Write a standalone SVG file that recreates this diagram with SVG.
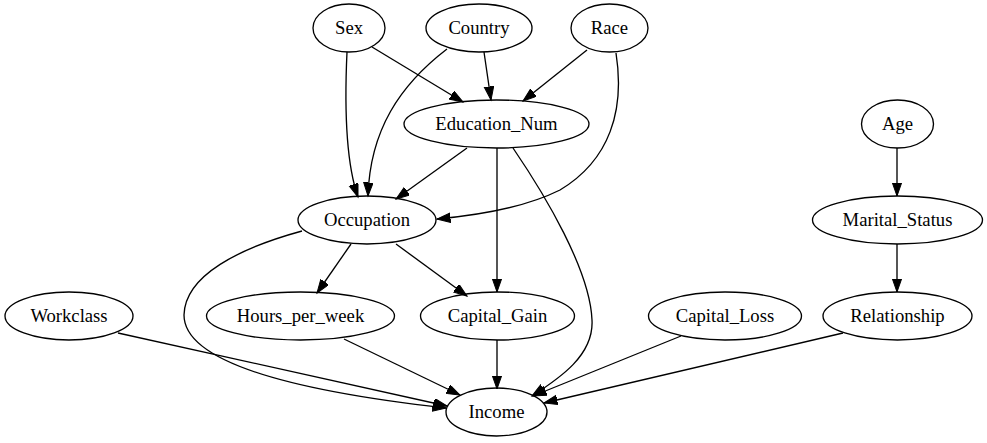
<svg xmlns="http://www.w3.org/2000/svg" width="987" height="443" viewBox="0 0 987 443">
<style>
.n ellipse{fill:none;stroke:#000;stroke-width:1.33}
.n text{font-size:18.67px;text-anchor:middle;fill:#000}
.e path{fill:none;stroke:#000;stroke-width:1.33;marker-end:url(#ah)}
</style>
<defs>
<marker id="ah" markerUnits="userSpaceOnUse" markerWidth="16" markerHeight="12" refX="13.5" refY="4.75" orient="auto">
<path d="M0,0 L13.5,4.75 L0,9.5 z" fill="#000" stroke="#000" stroke-width="1"/>
</marker>
</defs>
<rect width="987" height="443" fill="#fff"/>
<g id="edges" class="e">
<path d="M372,47 L463,102"/>
<path d="M347,52 C345,95 345,160 358,197"/>
<path d="M484,52 L491,100"/>
<path d="M447,49 C400,85 370,130 368,196"/>
<path d="M587,50 L523,101"/>
<path d="M616,53 C625,110 610,160 560,190 C520,210 470,216 437,219"/>
<path d="M467,148 L396,199"/>
<path d="M497,148 L497,292"/>
<path d="M513,148 C545,195 590,270 592,320 C594,355 560,378 532,396"/>
<path d="M351,244 L317,293"/>
<path d="M396,244 L467,296"/>
<path d="M302,231 C240,248 185,275 184,315 C184,370 330,395 446,408"/>
<path d="M897,148 L897,196"/>
<path d="M897,244 L897,292"/>
<path d="M118,333 L447,406"/>
<path d="M344,339 L460,395"/>
<path d="M497,340 L497,389"/>
<path d="M681,336 L533,396"/>
<path d="M843,333 L544,403"/>
</g>
<g font-family="Liberation Serif, serif">
<g id="Sex" class="n"><ellipse cx="349" cy="28" rx="36" ry="24"/><text x="349" y="34">Sex</text></g>
<g id="Country" class="n"><ellipse cx="479" cy="28" rx="53" ry="24"/><text x="479" y="34">Country</text></g>
<g id="Race" class="n"><ellipse cx="609.5" cy="28" rx="38.5" ry="24"/><text x="609.5" y="34">Race</text></g>
<g id="Education_Num" class="n"><ellipse cx="496.5" cy="124" rx="92.5" ry="24"/><text x="496.5" y="130">Education_Num</text></g>
<g id="Age" class="n"><ellipse cx="897.5" cy="124" rx="36" ry="24"/><text x="897.5" y="130">Age</text></g>
<g id="Occupation" class="n"><ellipse cx="367" cy="220" rx="69" ry="24"/><text x="367" y="226">Occupation</text></g>
<g id="Marital_Status" class="n"><ellipse cx="897.5" cy="220" rx="85" ry="24"/><text x="897.5" y="226">Marital_Status</text></g>
<g id="Workclass" class="n"><ellipse cx="69" cy="316" rx="64" ry="24"/><text x="69" y="322">Workclass</text></g>
<g id="Hours_per_week" class="n"><ellipse cx="300.5" cy="316" rx="94" ry="24"/><text x="300.5" y="322">Hours_per_week</text></g>
<g id="Capital_Gain" class="n"><ellipse cx="497.5" cy="316" rx="77" ry="24"/><text x="497.5" y="322">Capital_Gain</text></g>
<g id="Capital_Loss" class="n"><ellipse cx="725" cy="316" rx="76.5" ry="24"/><text x="725" y="322">Capital_Loss</text></g>
<g id="Relationship" class="n"><ellipse cx="897.5" cy="316" rx="74.5" ry="24"/><text x="897.5" y="322">Relationship</text></g>
<g id="Income" class="n"><ellipse cx="496.5" cy="412" rx="50.5" ry="24"/><text x="496.5" y="418">Income</text></g>
</g>
</svg>
